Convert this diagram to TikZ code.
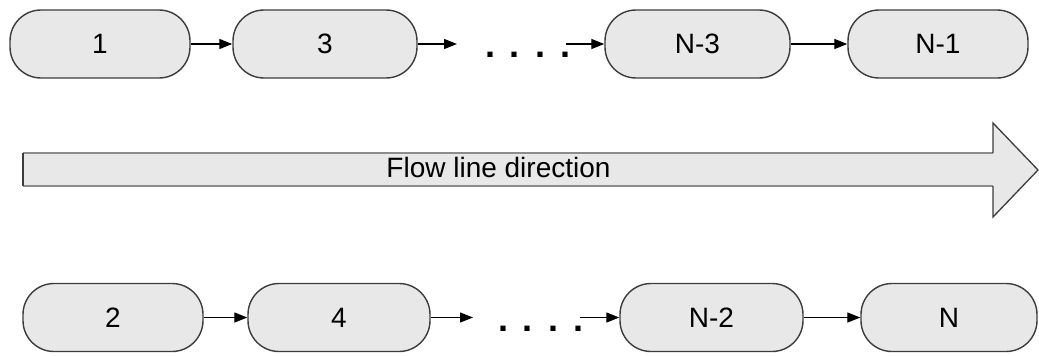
\documentclass[tikz,border=0pt]{standalone}
\usepackage{fontspec}
\setmainfont{Liberation Sans}
\usetikzlibrary{arrows.meta}
\definecolor{boxfill}{HTML}{E8E8E8}
\definecolor{boxline}{HTML}{3C3C3C}
\begin{document}
\begin{tikzpicture}[x=1pt,y=-1pt,
  stagebox/.style={draw=boxline, fill=boxfill, line width=1.4pt,
    rounded corners=31pt, minimum height=68pt, inner sep=0pt,
    font=\fontsize{28}{30}\selectfont},
  link/.style={line width=1.3pt, -{Triangle[length=13pt,width=10pt]}},
  dotrow/.style={inner sep=0pt, anchor=base, font=\bfseries\fontsize{36}{38}\selectfont}
]
\useasboundingbox (0,0) rectangle (1039,356);

% odd-numbered stages
\node[stagebox, minimum width=180pt] (s1)  at (100,44)   {1};
\node[stagebox, minimum width=184pt] (s3)  at (325,44)   {3};
\node[stagebox, minimum width=185pt] (sN3) at (697.5,44) {N-3};
\node[stagebox, minimum width=180pt] (sN1) at (938,44)   {N-1};
\coordinate (t3out) at (457,44);
\coordinate (tN3in) at (566,44);
\node[dotrow] (tdots) at (527.5,57.5) {.\hspace{15pt}.\hspace{15pt}.\hspace{15pt}.};

\draw[link] (s1) -- (s3);
\draw[link] (s3) -- (t3out);
\draw[link] (tN3in) -- (sN3);
\draw[link] (sN3) -- (sN1);

% even-numbered stages
\node[stagebox, minimum width=180pt] (s2)  at (113,317.5)   {2};
\node[stagebox, minimum width=182pt] (s4)  at (339,317.5)   {4};
\node[stagebox, minimum width=183pt] (sN2) at (711.5,317.5) {N-2};
\node[stagebox, minimum width=176pt] (sN)  at (949,317.5)   {N};
\coordinate (b4out) at (473,317.5);
\coordinate (bN2in) at (580,317.5);
\node[dotrow] (bdots) at (540.5,331) {.\hspace{15pt}.\hspace{15pt}.\hspace{15pt}.};

\draw[link] (s2) -- (s4);
\draw[link] (s4) -- (b4out);
\draw[link] (bN2in) -- (sN2);
\draw[link] (sN2) -- (sN);

% flow direction block arrow
\coordinate (fa1) at (23,153);
\coordinate (fa2) at (993,153);
\coordinate (fa3) at (993,123);
\coordinate (fa4) at (1038,170);
\coordinate (fa5) at (993,217);
\coordinate (fa6) at (993,186);
\coordinate (fa7) at (23,186);
\fill[boxfill] (fa1) -- (fa2) -- (fa3) -- (fa4) -- (fa5) -- (fa6) -- (fa7) -- cycle;
\draw[black!45, line width=2pt] (fa1) -- (fa2) (fa7) -- (fa6);
\draw[boxline, line width=1.3pt] (fa2) -- (fa3) -- (fa4) -- (fa5) -- (fa6);
\draw[boxline, line width=1.6pt] (fa1) -- (fa7);
\node[inner sep=0pt, anchor=base, font=\fontsize{28}{30}\selectfont] (flowlbl) at (498.5,177) {Flow line direction};
\end{tikzpicture}
\end{document}
